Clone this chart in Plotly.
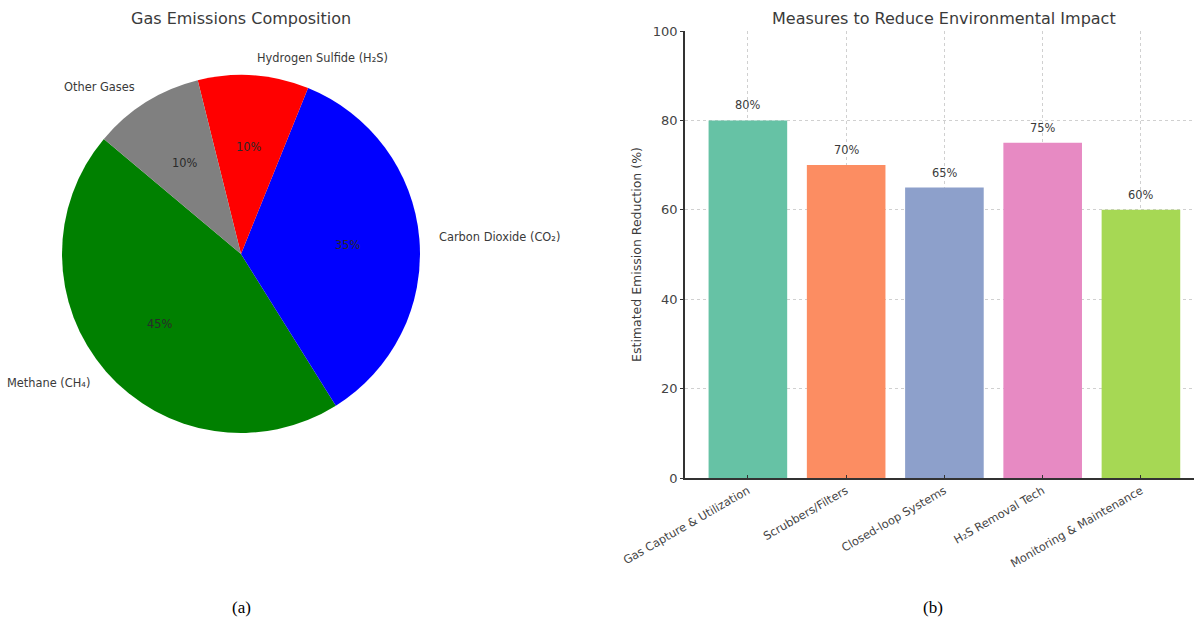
import numpy as np
import plotly.graph_objects as go

# Gas emissions composition (share of total, %)
gas_labels = ["Methane (CH₄)", "Carbon Dioxide (CO₂)", "Hydrogen Sulfide (H₂S)", "Other Gases"]
gas_shares = [45, 35, 10, 10]
gas_colors = ["green", "blue", "red", "gray"]

# Mitigation measures and their estimated emission reduction (%)
measures = ["Gas Capture & Utilization", "Scrubbers/Filters", "Closed-loop Systems",
            "H₂S Removal Tech", "Monitoring & Maintenance"]
reduction = [80, 70, 65, 75, 60]
bar_colors = ["#66c2a5", "#fc8d62", "#8da0cb", "#e78ac3", "#a6d854"]
y_ticks = [0, 20, 40, 60, 80, 100]

W, H = 1194, 623
FONT = "DejaVu Sans, Verdana, sans-serif"
TXT = "#3a3a3a"
SMALL = 11.4

# Pie placement (pixels) and wedge layout: first wedge starts at 140 deg, counter-clockwise
PIE_CX, PIE_CY, PIE_R = 241, 254, 179
START_ANGLE = 140
pie_domain = dict(x=[(PIE_CX - PIE_R) / W, (PIE_CX + PIE_R) / W],
                  y=[1 - (PIE_CY + PIE_R) / H, 1 - (PIE_CY - PIE_R) / H])

shares = np.array(gas_shares, dtype=float)
frac = shares / shares.sum()
# plotly's rotation for a counter-clockwise pie whose first wedge begins at START_ANGLE
pie_rotation = float((90 - START_ANGLE - frac[0] * 360) % 360)

fig = go.Figure()

fig.add_trace(go.Pie(
    labels=gas_labels, values=gas_shares, sort=False,
    direction="counterclockwise", rotation=pie_rotation,
    marker=dict(colors=gas_colors, line=dict(width=0)),
    textinfo="none", domain=pie_domain, showlegend=False, hoverinfo="skip",
    automargin=False,
))

annotations = []

# Wedge labels (outside, at 1.1 r) and percentages (inside, at 0.6 r)
ends = START_ANGLE + np.cumsum(frac) * 360
mids = np.deg2rad(ends - frac * 180)
for lab, f, th in zip(gas_labels, frac, mids):
    c, s = np.cos(th), np.sin(th)
    annotations.append(dict(
        text=lab, xref="paper", yref="paper",
        x=(PIE_CX + 1.1 * PIE_R * c) / W, y=1 - (PIE_CY - 1.1 * PIE_R * s) / H,
        xanchor="left" if c > 0 else "right", yanchor="middle",
        showarrow=False, font=dict(family=FONT, size=SMALL, color=TXT)))
    annotations.append(dict(
        text=f"{f:.0%}", xref="paper", yref="paper",
        x=(PIE_CX + 0.6 * PIE_R * c) / W, y=1 - (PIE_CY - 0.6 * PIE_R * s) / H,
        xanchor="center", yanchor="middle",
        showarrow=False, font=dict(family=FONT, size=SMALL, color="#2a2a2a")))

# Bar chart of mitigation measures
x_pos = list(range(len(measures)))
fig.add_trace(go.Bar(
    x=x_pos, y=reduction,
    marker=dict(color=bar_colors, line=dict(width=0)),
    width=0.8, showlegend=False, hoverinfo="skip",
    xaxis="x", yaxis="y",
))
for xi, v in zip(x_pos, reduction):
    annotations.append(dict(
        text=f"{v}%", x=xi, y=v + 2, xref="x", yref="y",
        xanchor="center", yanchor="bottom", yshift=-3, showarrow=False,
        font=dict(family=FONT, size=SMALL, color=TXT)))

annotations += [
    dict(text="Gas Emissions Composition", x=241 / W, y=1 - 18 / H, xref="paper", yref="paper",
         xanchor="center", yanchor="middle", showarrow=False,
         font=dict(family=FONT, size=16, color=TXT)),
    dict(text="Measures to Reduce Environmental Impact", x=944 / W, y=1 - 18 / H,
         xref="paper", yref="paper", xanchor="center", yanchor="middle", showarrow=False,
         font=dict(family=FONT, size=16, color=TXT)),
    dict(text="(a)", x=241 / W, y=1 - 607 / H, xref="paper", yref="paper",
         xanchor="center", yanchor="middle", showarrow=False,
         font=dict(family="Liberation Serif, Times New Roman, serif", size=17, color="black")),
    dict(text="(b)", x=933 / W, y=1 - 607 / H, xref="paper", yref="paper",
         xanchor="center", yanchor="middle", showarrow=False,
         font=dict(family="Liberation Serif, Times New Roman, serif", size=17, color="black")),
]

fig.update_layout(
    width=W, height=H,
    margin=dict(l=0, r=0, t=0, b=0, pad=0),
    paper_bgcolor="white", plot_bgcolor="white",
    font=dict(family=FONT, color=TXT),
    xaxis=dict(
        domain=[685 / W, 1.0], range=[-0.64, 4.54], automargin=False,
        tickmode="array", tickvals=x_pos, ticktext=measures,
        tickangle=-30, tickfont=dict(size=SMALL, color="#444444"),
        showgrid=True, gridcolor="#d0d0d0", griddash="dot", gridwidth=1,
        showline=True, linecolor="#333333", linewidth=1.5,
        ticks="inside", ticklen=3, tickcolor="#333333",
        zeroline=False,
    ),
    yaxis=dict(
        domain=[1 - 478 / H, 1 - 31 / H], range=[0, 100], automargin=False,
        tickmode="array", tickvals=y_ticks,
        tickfont=dict(size=13, color="#444444"),
        showgrid=True, gridcolor="#d0d0d0", griddash="dot", gridwidth=1,
        showline=True, linecolor="#333333", linewidth=1.5,
        ticks="outside", ticklen=3, tickcolor="#333333",
        zeroline=False,
        title=dict(text="Estimated Emission Reduction (%)", font=dict(size=12.5, color=TXT), standoff=8),
    ),
    annotations=annotations,
)

fig.write_html("out.html")
